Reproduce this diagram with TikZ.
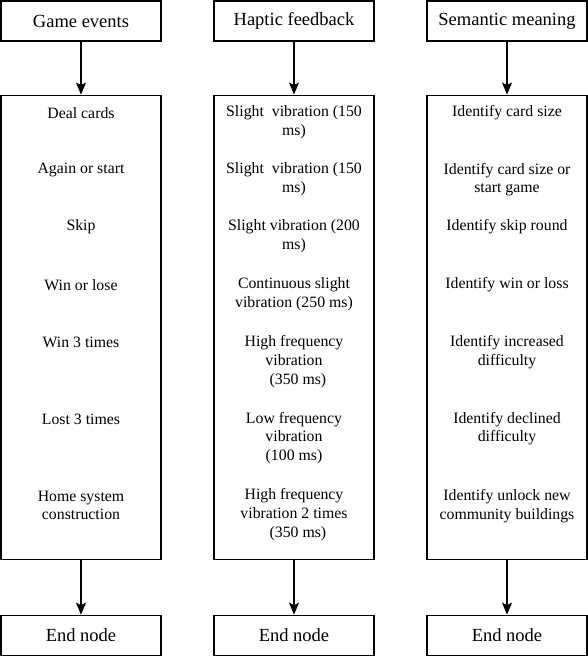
\documentclass[tikz,border=0pt]{standalone}
\usepackage{fontspec}
\setmainfont{Liberation Serif}
\usetikzlibrary{positioning,arrows.meta}

\begin{document}
\begin{tikzpicture}[x=1pt,y=-1pt,
		headbox/.style={rectangle,draw,line width=1.1pt,minimum width=160pt,minimum height=40pt,inner sep=0pt,font=\fontsize{18.5}{22}\selectfont},
		listbox/.style={rectangle,draw,line width=1.1pt,minimum width=160pt,minimum height=464pt,inner sep=0pt},
		item/.style={align=center,inner sep=0pt,font=\fontsize{15.8}{18.7}\selectfont},
		flow/.style={-{Stealth[length=12pt,width=10pt,inset=2.5pt]},line width=1.1pt}
		]
	\useasboundingbox (0,0) rectangle (588,661);
	
	% column heads
	\node[headbox](GE) at (81,21){Game events};
	\node[headbox](HF) at (294,21){Haptic feedback};
	\node[headbox](SM) at (507,21){Semantic meaning};
	
	% big boxes
	\node[listbox, below = 53pt of GE](GEL){};
	\node[listbox, below = 53pt of HF](HFL){};
	\node[listbox, below = 53pt of SM](SML){};
	
	% end nodes
	\node[headbox, below = 55pt of GEL](GEE){End node};
	\node[headbox, below = 55pt of HFL](HFE){End node};
	\node[headbox, below = 55pt of SML](SME){End node};
	
	\draw[flow] (GE) -- (GEL);
	\draw[flow] (HF) -- (HFL);
	\draw[flow] (SM) -- (SML);
	\draw[flow] (GEL) -- (GEE);
	\draw[flow] (HFL) -- (HFE);
	\draw[flow] (SML) -- (SME);
	
	% game events
	\node[item](G1) at (81,112.7){Deal cards};
	\node[item](G2) at (81,170){Again or start};
	\node[item](G3) at (81,226.7){Skip};
	\node[item](G4) at (81,285){Win or lose};
	\node[item](G5) at (81,342.7){Win 3 times};
	\node[item](G6) at (81,419){Lost 3 times};
	\node[item](G7) at (81,505.5){Home system\\construction};
	
	% haptic feedback
	\node[item](H1) at (294,122){Slight\ \ vibration (150\\ms)};
	\node[item](H2) at (294,179.5){Slight\ \ vibration (150\\ms)};
	\node[item](H3) at (294,236.5){Slight vibration (200\\ms)};
	\node[item](H4) at (294,294){Continuous slight\\vibration (250 ms)};
	\node[item](H5) at (294,361.5){High frequency\\vibration\\\ \ (350 ms)};
	\node[item](H6) at (294,438){Low frequency\\vibration\\(100 ms)};
	\node[item](H7) at (294,514.5){High frequency\\vibration 2 times\\\ \ (350 ms)};
	
	% semantic meaning
	\node[item](S1) at (507,112.7){Identify card size};
	\node[item](S2) at (507,179.5){Identify card size or\\start game};
	\node[item](S3) at (507,226.7){Identify skip round};
	\node[item](S4) at (507,285){Identify win or loss};
	\node[item](S5) at (507,352){Identify increased\\difficulty};
	\node[item](S6) at (507,428.5){Identify declined\\difficulty};
	\node[item](S7) at (507,506){Identify unlock new\\community buildings};
\end{tikzpicture}
\end{document}
